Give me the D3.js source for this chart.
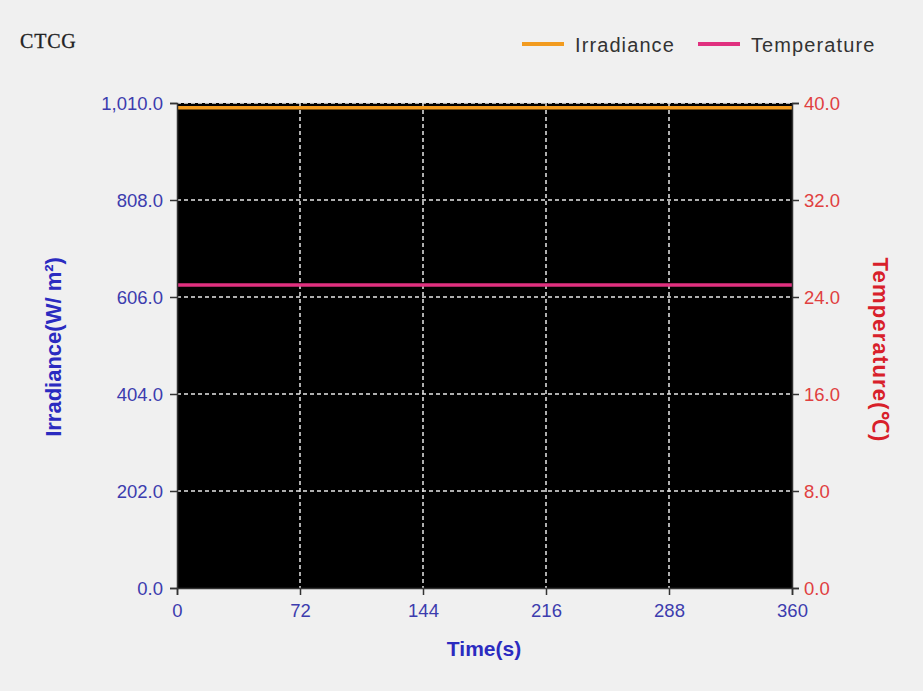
<!DOCTYPE html>
<html><head><meta charset="utf-8">
<script src="https://cdn.jsdelivr.net/npm/d3@7"></script>
<style>body{margin:0;background:#f0f0f0;}svg{display:block;}</style>
</head><body>
<script>
const time = [0, 72, 144, 216, 288, 360];
const irradiance = [1000, 1000, 1000, 1000, 1000, 1000];
const temperature = [25, 25, 25, 25, 25, 25];
const xTicks = [0, 72, 144, 216, 288, 360];
const yLeftTicks = [0, 202, 404, 606, 808, 1010];
const yRightTicks = [0, 8, 16, 24, 32, 40];
const seriesNames = ["Irradiance", "Temperature"];
const seriesColors = ["#f29b1f", "#e0307f"];

const W = 923, H = 691;
const m = {l:177, r:923-792, t:103, b:691-588};
const svg = d3.select("body").append("svg").attr("width", W).attr("height", H);
svg.append("rect").attr("width", W).attr("height", H).attr("fill", "#f0f0f0");

const x = d3.scaleLinear().domain([0, 360]).range([m.l, W - m.r]);
const yL = d3.scaleLinear().domain([0, 1010]).range([H - m.b, m.t]);
const yR = d3.scaleLinear().domain([0, 40]).range([H - m.b, m.t]);

svg.append("rect").attr("x", m.l).attr("y", m.t)
  .attr("width", x(360) - x(0)).attr("height", yL(0) - yL(1010)).attr("fill", "#000");

// grid
const g = svg.append("g");
g.selectAll(".gx").data(xTicks.slice(1, -1)).join("line")
  .attr("x1", d => x(d)).attr("x2", d => x(d)).attr("y1", yL(1010)).attr("y2", yL(0))
  .attr("stroke", "#e8e8e8").attr("stroke-width", 1.5).attr("stroke-dasharray", "4,3");
g.selectAll(".gy").data(yLeftTicks.slice(1)).join("line")
  .attr("x1", x(0)).attr("x2", x(360)).attr("y1", d => yL(d)).attr("y2", d => yL(d))
  .attr("stroke", "#e8e8e8").attr("stroke-width", 1.5).attr("stroke-dasharray", "4,3");

// series
const line = (ys, arr) => d3.line().x((d, i) => x(time[i])).y(d => ys(d))(arr);
svg.append("path").attr("d", line(yL, irradiance)).attr("fill", "none")
  .attr("stroke", seriesColors[0]).attr("stroke-width", 3.5);
svg.append("path").attr("d", line(yR, temperature)).attr("fill", "none")
  .attr("stroke", seriesColors[1]).attr("stroke-width", 3.5);

const font = "Arial, 'Liberation Sans', sans-serif";
// axes
const axL = svg.append("g").attr("transform", `translate(${m.l},0)`)
  .call(d3.axisLeft(yL).tickValues(yLeftTicks).tickSize(7).tickFormat(d3.format(",.1f")));
const axR = svg.append("g").attr("transform", `translate(${W - m.r},0)`)
  .call(d3.axisRight(yR).tickValues(yRightTicks).tickSize(7).tickFormat(d3.format(".1f")));
const axB = svg.append("g").attr("transform", `translate(0,${H - m.b})`)
  .call(d3.axisBottom(x).tickValues(xTicks).tickSize(7).tickFormat(d3.format("d")));
[axL, axR, axB].forEach(a => {
  a.attr("font-size", null);
  a.select(".domain").attr("stroke", "#333").attr("stroke-width", 1.5);
  a.selectAll(".tick line").attr("stroke", "#333").attr("stroke-width", 1.5);
  a.selectAll("text").attr("font-family", font).style("font-size", "18.5px");
});
axL.selectAll("text").attr("fill", "#3c3cae").attr("x", -14).attr("dy", "0.35em");
axR.selectAll("text").attr("fill", "#e04040").attr("x", 12).attr("dy", "0.35em");
axB.selectAll("text").attr("fill", "#3c3cae").attr("y", 14).attr("dy", "0.8em");

// titles
svg.append("text").attr("x", 20).attr("y", 48).text("CTCG")
  .attr("font-family", "'Liberation Serif', 'DejaVu Serif', serif").style("font-size", "20px")
  .attr("letter-spacing", 0.8).attr("fill", "#222").attr("stroke", "#222").attr("stroke-width", 0.3);

svg.append("text").attr("x", 484).attr("y", 656).attr("text-anchor", "middle")
  .attr("font-family", font).style("font-size", "21px").attr("font-weight", "bold").attr("fill", "#2b2bc0")
  .text("Time(s)");
svg.append("text").attr("transform", "translate(61,347) rotate(-90)").attr("text-anchor", "middle")
  .attr("font-family", font).style("font-size", "22px").attr("font-weight", "bold").attr("fill", "#2b2bc0")
  .text("Irradiance(W/ m²)");
svg.append("text").attr("transform", "translate(873,350) rotate(90)").attr("text-anchor", "middle")
  .attr("font-family", font).style("font-size", "22px").attr("font-weight", "bold").attr("fill", "#d8202a")
  .attr("letter-spacing", 1.2)
  .text("Temperature(℃)");

// legend
const legX = [522, 698];
seriesNames.forEach((n, i) => {
  svg.append("line").attr("x1", legX[i]).attr("x2", legX[i] + 42).attr("y1", 44).attr("y2", 44)
    .attr("stroke", seriesColors[i]).attr("stroke-width", 4);
  svg.append("text").attr("x", legX[i] + 53).attr("y", 52).text(n)
    .attr("font-family", font).style("font-size", "20px").attr("letter-spacing", 1.1).attr("fill", "#333");
});
</script>
</body></html>
